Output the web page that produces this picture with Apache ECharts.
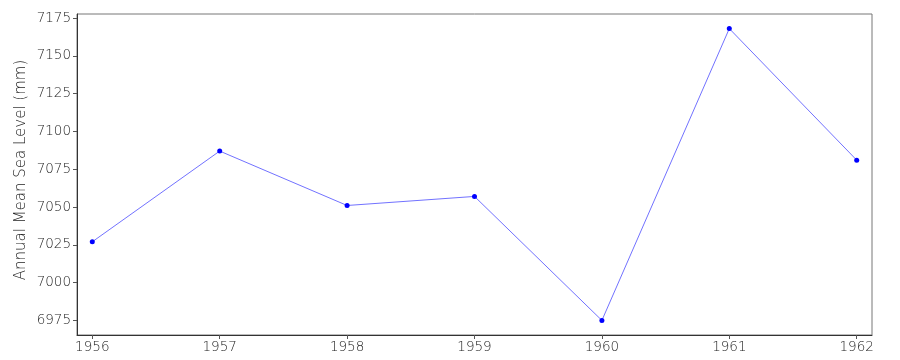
<!DOCTYPE html>
<html>
<head>
<meta charset="utf-8">
<script src="https://cdn.jsdelivr.net/npm/echarts@6/dist/echarts.min.js"></script>
<style>html,body{margin:0;padding:0;background:#fff}#c{width:900px;height:360px}</style>
</head>
<body>
<div id="c"></div>
<script>
var years = [1956, 1957, 1958, 1959, 1960, 1961, 1962];
var seaLevel = [7027, 7087, 7051, 7057, 6975, 7168, 7081];
var yTicks = [6975, 7000, 7025, 7050, 7075, 7100, 7125, 7150, 7175];
var xTicks = [1956, 1957, 1958, 1959, 1960, 1961, 1962];

var chart = echarts.init(document.getElementById('c'), null, {renderer: 'canvas'});
var font = 'DejaVu Sans';
chart.setOption({
  animation: false,
  backgroundColor: '#fff',
  grid: {left: 77, right: 28, top: 14, bottom: 25, outerBoundsMode: 'none', containLabel: false,
         show: true, borderColor: '#777', borderWidth: 1, backgroundColor: 'transparent'},
  xAxis: {
    type: 'value', min: 1955.88, max: 1962.12,
    axisLine: {show: true, onZero: false, lineStyle: {color: '#333', width: 1}},
    axisTick: {show: true, length: 4, lineStyle: {color: '#555'}, customValues: xTicks},
    axisLabel: {color: '#222', fontFamily: font, fontWeight: 200, fontSize: 13.5, margin: 5, customValues: xTicks, formatter: function(v){return String(v);}},
    splitLine: {show: false}
  },
  yAxis: {
    type: 'value', min: 6965.35, max: 7177.65,
    name: 'Annual Mean Sea Level (mm)', nameLocation: 'middle', nameGap: 48, nameMoveOverlap: false,
    nameTextStyle: {color: '#222', fontFamily: font, fontWeight: 200, fontSize: 15, padding: [0, 0, 0, 9]},
    axisLine: {show: true, onZero: false, lineStyle: {color: '#333', width: 1}},
    axisTick: {show: true, length: 4, lineStyle: {color: '#555'}, customValues: yTicks},
    axisLabel: {color: '#222', fontFamily: font, fontWeight: 200, fontSize: 13.5, margin: 6, customValues: yTicks, formatter: function(v){return String(v);}},
    splitLine: {show: false}
  },
  series: [{
    type: 'line',
    data: years.map(function(y, i){ return [y, seaLevel[i]]; }),
    symbol: 'circle', symbolSize: 5,
    itemStyle: {color: '#0000ff'},
    lineStyle: {color: '#0000ff', width: 0.7, opacity: 0.8}
  }]
});
</script>
</body>
</html>
